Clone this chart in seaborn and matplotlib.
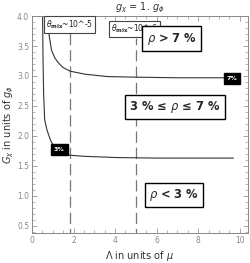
import pandas as pd
import matplotlib
matplotlib.use("Agg")
import matplotlib.pyplot as plt
import seaborn as sns
from matplotlib.ticker import MultipleLocator

# curve for rho = 7 %
lam_7 = [0.68, 0.8, 0.94, 1.1, 1.27, 1.5, 1.84, 2.55, 3.63, 5.0, 7.0, 9.3]
g_7 = [4.0, 3.73, 3.43, 3.3, 3.22, 3.14, 3.08, 3.03, 2.99, 2.98, 2.97, 2.97]

# curve for rho = 3 %
lam_3 = [0.51, 0.53, 0.56, 0.61, 0.72, 0.9, 1.1, 1.35, 1.75, 2.5, 4.0, 6.0, 9.7]
g_3 = [4.0, 3.3, 2.7, 2.27, 2.1, 1.92, 1.8, 1.72, 1.68, 1.66, 1.64, 1.63, 1.63]

# theta_mix lines
theta_lam = [1.85, 5.0]
theta_labels = [r"$\theta_{\mathbf{mix}}$~10^-5", r"$\theta_{\mathbf{mix}}$~10^-6"]

region_labels = [r"$\rho$ > 7 %", r"3 % ≤ $\rho$ ≤ 7 %", r"$\rho$ < 3 %"]
curve_labels = ["7%", "3%"]

sns.set_style("ticks")
plt.rcParams['font.family'] = ['DejaVu Sans']
plt.rcParams['mathtext.fontset'] = 'dejavusans'

fig = plt.figure(figsize=(2.5, 2.63), dpi=100)
ax = fig.add_axes([0.128, 0.114, 0.864, 0.825])

df = pd.concat([
    pd.DataFrame({"lam": lam_7, "G": g_7, "rho": "7%"}),
    pd.DataFrame({"lam": lam_3, "G": g_3, "rho": "3%"}),
])
sns.lineplot(data=df, x="lam", y="G", units="rho", estimator=None, sort=False,
             color="#333333", lw=0.8, ax=ax, legend=False)

# dashed theta lines, stopping under their labels
ax.vlines(theta_lam[0], 0, 3.72, colors="#777777", lw=0.9, linestyles=(0, (9, 4)), zorder=1)
ax.vlines(theta_lam[1], 0, 3.63, colors="#777777", lw=0.9, linestyles=(0, (9, 4)), zorder=1)

wbox = dict(boxstyle="square,pad=0.25", fc="white", ec="#444444", lw=0.8)
ax.text(1.8, 3.86, theta_labels[0], fontsize=5.5, ha="center", va="center", color="#222222", bbox=wbox)
ax.text(4.92, 3.78, theta_labels[1], fontsize=5.5, ha="center", va="center", color="#222222", bbox=wbox)

rbox = dict(boxstyle="square,pad=0.35", fc="white", ec="black", lw=1.0)
ax.text(6.72, 3.625, region_labels[0], fontsize=8.3, fontweight="bold", ha="center", va="center", bbox=rbox)
ax.text(6.88, 2.49, region_labels[1], fontsize=8.3, fontweight="bold", ha="center", va="center", bbox=rbox)
ax.text(6.83, 1.02, region_labels[2], fontsize=8.3, fontweight="bold", ha="center", va="center", bbox=rbox)

bbox_k = dict(boxstyle="square,pad=0.45", fc="black", ec="black")
ax.text(9.62, 2.96, curve_labels[0], fontsize=4.5, fontweight="bold", color="white", ha="center", va="center", bbox=bbox_k)
ax.text(1.32, 1.77, curve_labels[1], fontsize=4.5, fontweight="bold", color="white", ha="center", va="center", bbox=bbox_k)

ax.set_xlim(0, 10.4)
ax.set_ylim(0.38, 4.0)
ax.xaxis.set_major_locator(MultipleLocator(2))
ax.xaxis.set_minor_locator(MultipleLocator(0.5))
ax.yaxis.set_major_locator(MultipleLocator(0.5))
ax.yaxis.set_minor_locator(MultipleLocator(0.1))
ax.tick_params(which="both", direction="in", top=True, right=True, colors="#999999",
               labelsize=5.5, labelcolor="#888888", pad=2)
ax.tick_params(which="major", length=3.5, width=0.6)
ax.tick_params(which="minor", length=2, width=0.5)
for s in ax.spines.values():
    s.set_color("#888888")
    s.set_linewidth(0.7)

ax.set_title(r"$g_\chi$ = 1. $g_\phi$", fontsize=7, color="#333333", pad=4)
ax.set_xlabel(r"$\Lambda$ in units of $\mu$", fontsize=7, color="#333333", labelpad=3)
ax.set_ylabel(r"$G_\chi$ in units of $g_\phi$", fontsize=7, color="#333333", labelpad=1)

fig.savefig("out.png", dpi=100)
